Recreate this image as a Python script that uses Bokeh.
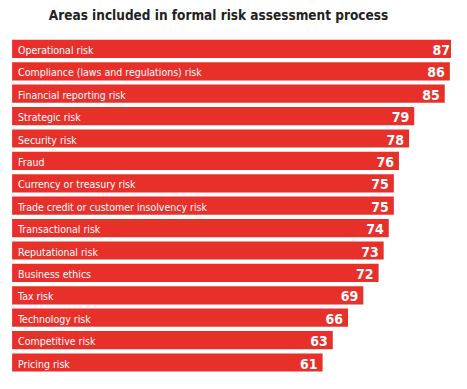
from bokeh.plotting import figure
from bokeh.models import ColumnDataSource, Range1d, Label
from bokeh.core.properties import value
from bokeh.embed import file_html
from bokeh.resources import INLINE

title_text = "Areas included in formal risk assessment process"
categories = [
    "Operational risk",
    "Compliance (laws and regulations) risk",
    "Financial reporting risk",
    "Strategic risk",
    "Security risk",
    "Fraud",
    "Currency or treasury risk",
    "Trade credit or customer insolvency risk",
    "Transactional risk",
    "Reputational risk",
    "Business ethics",
    "Tax risk",
    "Technology risk",
    "Competitive risk",
    "Pricing risk",
]
values = [87, 86, 85, 79, 78, 76, 75, 75, 74, 73, 72, 69, 66, 63, 61]

FONT = "DejaVu Sans Condensed, Roboto, sans-serif"

W, H = 451, 373
pitch = 22.4
bar_h = 18.2
first_center = 39.3 + bar_h / 2
px_per_unit = 5.09
x0_px = 11.6

src = ColumnDataSource(dict(
    y=list(range(len(categories))),
    cat=categories,
    val=values,
    lbl=[str(v) for v in values],
))

p = figure(width=W, height=H, output_backend="svg", toolbar_location=None,
           min_border=0, min_border_left=0, min_border_right=0,
           min_border_top=0, min_border_bottom=0,
           x_range=Range1d(-x0_px / px_per_unit, (W - x0_px) / px_per_unit),
           y_range=Range1d((H - first_center) / pitch, -first_center / pitch))
p.axis.visible = False
p.grid.visible = False
p.outline_line_color = None
p.background_fill_color = "white"
p.border_fill_color = "white"

red = "#E8302B"
p.hbar(y="y", left=0, right="val", height=bar_h / pitch, source=src,
       fill_color=red, line_color=None)

p.text(x=0, y="y", text="cat", source=src, x_offset=6, y_offset=1,
       text_align="left", text_baseline="middle",
       text_font=value(FONT), text_font_size="10.5px",
       text_font_style="normal", text_color="white")

p.text(x="val", y="y", text="lbl", source=src, x_offset=-5, y_offset=1,
       text_align="right", text_baseline="middle",
       text_font=value(FONT), text_font_size="14px",
       text_font_style="bold", text_color="white")

p.add_layout(Label(x=218, y=H - 14.4, x_units="screen", y_units="screen",
                   text=title_text, text_align="center", text_baseline="middle",
                   text_font=FONT, text_font_size="13.5px",
                   text_font_style="bold", text_color="#222222"))

open("out.html", "w").write(file_html(p, INLINE))
